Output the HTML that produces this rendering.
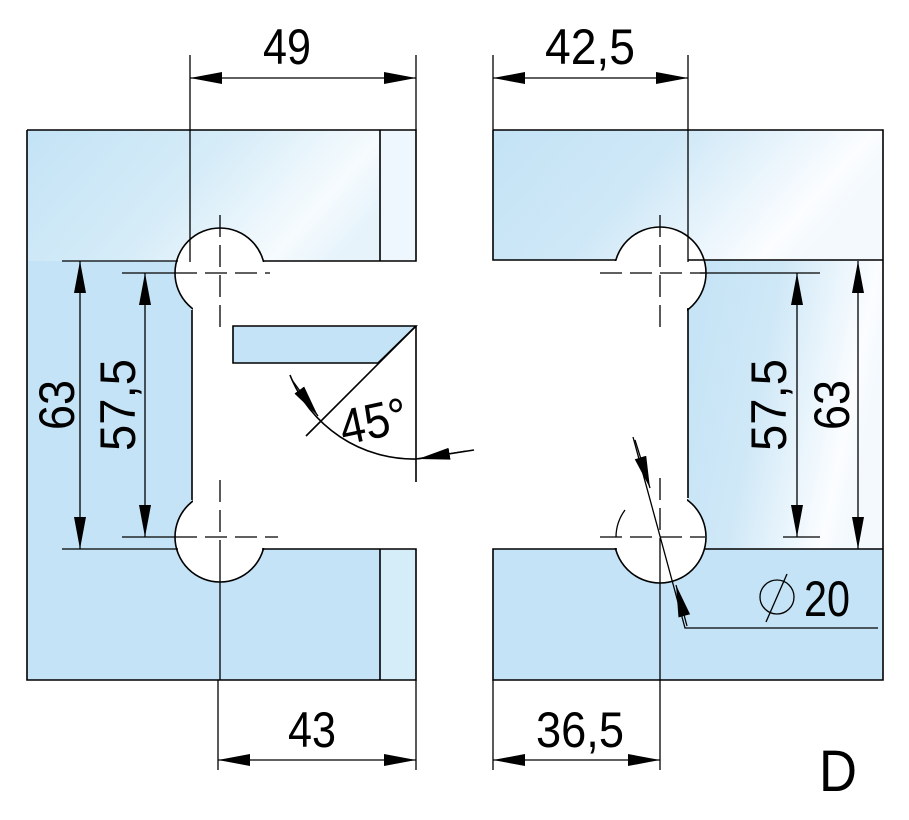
<!DOCTYPE html>
<html><head><meta charset="utf-8"><style>html,body{margin:0;padding:0;background:#fff}svg{display:block}</style></head>
<body>
<svg width="909" height="820" viewBox="0 0 909 820" xmlns="http://www.w3.org/2000/svg" font-family="Liberation Sans, sans-serif">
<defs>
<linearGradient id="g1" x1="0" y1="0" x2="1" y2="0.3">
<stop offset="0" stop-color="#c3e3f6"/><stop offset="0.5" stop-color="#d6ecf8"/><stop offset="0.85" stop-color="#f6fbfe"/><stop offset="1" stop-color="#e6f3fb"/></linearGradient>
<linearGradient id="g2" x1="0" y1="0" x2="1" y2="0.3">
<stop offset="0" stop-color="#c3e3f6"/><stop offset="0.45" stop-color="#cfe8f7"/><stop offset="0.9" stop-color="#fbfdff"/><stop offset="1" stop-color="#f3f9fd"/></linearGradient>
<marker id="a" viewBox="0 0 32 12" refX="32" refY="6" markerWidth="32" markerHeight="12" markerUnits="userSpaceOnUse" orient="auto"><path d="M0,0 L32,6 L0,12 Z" fill="#000"/></marker>
<marker id="as" viewBox="0 0 32 12" refX="32" refY="6" markerWidth="32" markerHeight="12" markerUnits="userSpaceOnUse" orient="auto-start-reverse"><path d="M0,0 L32,6 L0,12 Z" fill="#000"/></marker>
</defs>
<g stroke="#000" stroke-width="1.6" fill="none">
<rect x="27" y="130" width="389" height="131" fill="url(#g1)" stroke="none"/>
<rect x="27" y="261" width="165" height="288" fill="#c4e3f6" stroke="none"/>
<rect x="27" y="549" width="389" height="131" fill="#c4e3f6" stroke="none"/>
<rect x="380" y="130" width="36" height="131" fill="#eef7fd" stroke="none"/>
<rect x="380" y="549" width="36" height="131" fill="#d5ecf9" stroke="none"/>
<circle cx="220" cy="273" r="45" fill="#fff"/>
<circle cx="220" cy="537" r="45" fill="#fff"/>
<rect x="193" y="262" width="240" height="286" fill="#fff" stroke="none"/>
<path d="M27,130 H416 V261 H264 M192,310 V500 M27,130 V680 H416 V549 H262"/>
<path d="M380,130 V261 M380,549 V680"/>
<rect x="493" y="130" width="390" height="130" fill="url(#g2)" stroke="none"/>
<rect x="688" y="260" width="195" height="289" fill="url(#g2)" stroke="none"/>
<rect x="493" y="549" width="390" height="131" fill="#c4e3f6" stroke="none"/>
<circle cx="660" cy="273" r="46" fill="#fff"/>
<circle cx="660" cy="537" r="46" fill="#fff"/>
<rect x="480" y="261" width="207" height="287" fill="#fff" stroke="none"/>
<path d="M493,130 H883 V680 H493 V549 H617 M493,130 V260 H616 M688,308 V498 M704,549 H883 M688,260 H883"/>
<path d="M233,326 H416 L378,363 H233 Z" fill="#c4e3f6"/>
<path d="M416,326 L306,436 M416,326 V482"/>
<path d="M290,375 A133,133 0 0 0 416,459" />
<path d="M416,459 L474,450"/>
</g>
<g stroke="#000" stroke-width="1.3" fill="none">
<path d="M190,55 V262 M416,55 V130 M493,55 V130 M688,55 V262 M218,680 V770 M416,680 V770 M493,680 V770 M660,680 V770"/>
<path d="M62,261 H178 M122,273 H175 M62,549 H178 M122,537 H175 M783,537 H820 M700,273 H820"/>
<path d="M220,548 V680 M660,549 V680"/>
<path d="M175,273 H270 M220,215 V330 M175,537 H278 M220,480 V548 M600,273 H705 M660,215 V330 M600,537 H705 M660,478 V549" stroke-dasharray="22,8"/>
<path d="M625,510 A46,46 0 0 0 616,537"/>
<path d="M190,78 H416" marker-start="url(#as)" marker-end="url(#a)"/>
<path d="M493,78 H688" marker-start="url(#as)" marker-end="url(#a)"/>
<path d="M218,760 H416" marker-start="url(#as)" marker-end="url(#a)"/>
<path d="M493,760 H660" marker-start="url(#as)" marker-end="url(#a)"/>
<path d="M80,261 V549" marker-start="url(#as)" marker-end="url(#a)"/>
<path d="M145,273 V537" marker-start="url(#as)" marker-end="url(#a)"/>
<path d="M797,273 V537" marker-start="url(#as)" marker-end="url(#a)"/>
<path d="M858,261 V549" marker-start="url(#as)" marker-end="url(#a)"/>
<path d="M292,380 L318,416" marker-end="url(#a)"/>
<path d="M466,451 L418,459" marker-end="url(#a)"/>
<path d="M633,437 L685,628 H878"/>
<path d="M635,440 L650,488" marker-end="url(#a)"/>
<path d="M687,626 L676,585" marker-end="url(#a)"/>
</g>
<g font-size="50" fill="#000">
<text x="287" y="64" text-anchor="middle" textLength="48" lengthAdjust="spacingAndGlyphs">49</text>
<text x="590" y="64" text-anchor="middle" textLength="90" lengthAdjust="spacingAndGlyphs">42,5</text>
<text x="312" y="747" text-anchor="middle" textLength="48" lengthAdjust="spacingAndGlyphs">43</text>
<text x="580" y="747" text-anchor="middle" textLength="88" lengthAdjust="spacingAndGlyphs">36,5</text>
<text transform="translate(74,405) rotate(-90)" text-anchor="middle" textLength="50" lengthAdjust="spacingAndGlyphs">63</text>
<text transform="translate(135,405) rotate(-90)" text-anchor="middle" textLength="92" lengthAdjust="spacingAndGlyphs">57,5</text>
<text transform="translate(786,405) rotate(-90)" text-anchor="middle" textLength="92" lengthAdjust="spacingAndGlyphs">57,5</text>
<text transform="translate(849,405) rotate(-90)" text-anchor="middle" textLength="50" lengthAdjust="spacingAndGlyphs">63</text>
<text transform="translate(377,438) rotate(-12)" text-anchor="middle" textLength="68" lengthAdjust="spacingAndGlyphs">45°</text>
<text x="827" y="616" text-anchor="middle" textLength="46" lengthAdjust="spacingAndGlyphs">20</text>
<text x="838" y="791" text-anchor="middle" font-size="58" textLength="38" lengthAdjust="spacingAndGlyphs">D</text>
</g>
<circle cx="777" cy="597" r="17" fill="none" stroke="#000" stroke-width="1.3"/>
<path d="M766,622 L787,574" stroke="#000" stroke-width="1.3"/>
</svg>
</body></html>
